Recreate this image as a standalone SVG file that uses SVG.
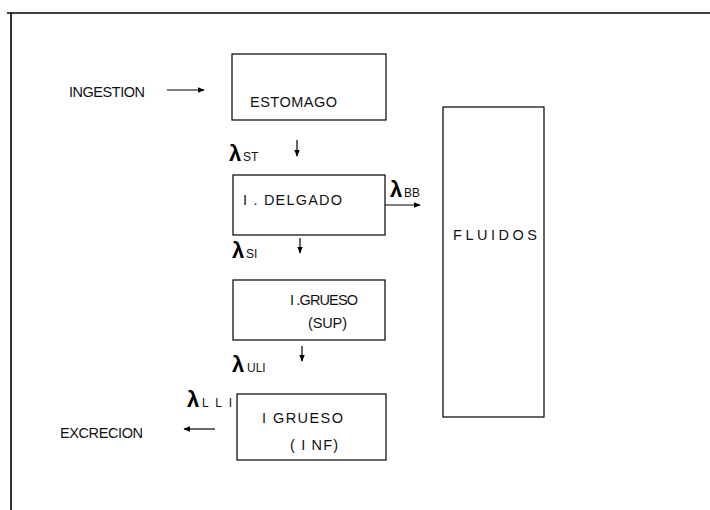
<svg xmlns="http://www.w3.org/2000/svg" width="710" height="510" viewBox="0 0 710 510">
<style>
.frame{stroke:#000;stroke-width:1.6;fill:none}
.box{fill:#fff;stroke:#000;stroke-width:1.2}
.t{font-family:"Liberation Sans",Arial,sans-serif;font-size:14.5px;fill:#111}
.lam{font-family:"Liberation Sans",Arial,sans-serif;font-size:22px;font-weight:bold;fill:#000}
.sub{font-family:"Liberation Sans",Arial,sans-serif;font-size:12px;fill:#111}
.arr{stroke:#000;stroke-width:1.2;fill:none;marker-end:url(#ah)}
</style>
<defs>
<marker id="ah" viewBox="0 0 10 10" refX="9" refY="5" markerWidth="7" markerHeight="7" markerUnits="userSpaceOnUse" orient="auto">
<path d="M0,1 L10,5 L0,9 z" fill="#000"/>
</marker>
</defs>
<rect width="710" height="510" fill="#fff"/>
<g id="frame">
<path class="frame" d="M7,13 H710 M11,13 V510"/>
</g>
<g id="ingestion"><text class="t" x="69" y="97" textLength="76" lengthAdjust="spacing">INGESTION</text></g>
<g id="estomago"><rect class="box" x="232" y="54" width="154" height="66"/><text class="t" x="250" y="107" textLength="87" lengthAdjust="spacing">ESTOMAGO</text></g>
<g id="delgado"><rect class="box" x="233" y="175" width="152" height="60"/><text class="t" x="243" y="205" textLength="99" lengthAdjust="spacing">I . DELGADO</text></g>
<g id="grueso-sup"><rect class="box" x="233" y="280" width="152" height="60"/><text class="t" x="290" y="305" textLength="68" lengthAdjust="spacing">I .GRUESO</text><text class="t" x="308" y="328" textLength="39" lengthAdjust="spacing">(SUP)</text></g>
<g id="grueso-inf"><rect class="box" x="237" y="394" width="149" height="66"/><text class="t" x="262" y="423" textLength="81" lengthAdjust="spacing">I GRUESO</text><text class="t" x="290" y="450" textLength="48" lengthAdjust="spacing">( I NF)</text></g>
<g id="fluidos"><rect class="box" x="443" y="107" width="101" height="310"/><text class="t" x="453" y="240" textLength="84" lengthAdjust="spacing">FLUIDOS</text></g>
<g id="excrecion"><text class="t" x="60" y="438" textLength="83" lengthAdjust="spacing">EXCRECION</text></g>
<g id="connectors">
<line class="arr" x1="167" y1="90" x2="204" y2="90"/>
<line class="arr" x1="297" y1="140" x2="297" y2="156"/>
<line class="arr" x1="385" y1="205" x2="420" y2="205"/>
<line class="arr" x1="300" y1="238" x2="300" y2="253"/>
<line class="arr" x1="302" y1="346" x2="302" y2="361"/>
<line class="arr" x1="215" y1="429" x2="184" y2="429"/>
</g>
<g id="labels">
<text class="lam" x="229" y="161">λ</text><text class="sub" x="243" y="161">ST</text>
<text class="lam" x="390" y="197">λ</text><text class="sub" x="404" y="197">BB</text>
<text class="lam" x="232" y="258">λ</text><text class="sub" x="246" y="258">SI</text>
<text class="lam" x="232" y="372">λ</text><text class="sub" x="247" y="372">ULI</text>
<text class="lam" x="187" y="407">λ</text><text class="sub" x="202" y="407" textLength="30" lengthAdjust="spacing">LLI</text>
</g>
</svg>
